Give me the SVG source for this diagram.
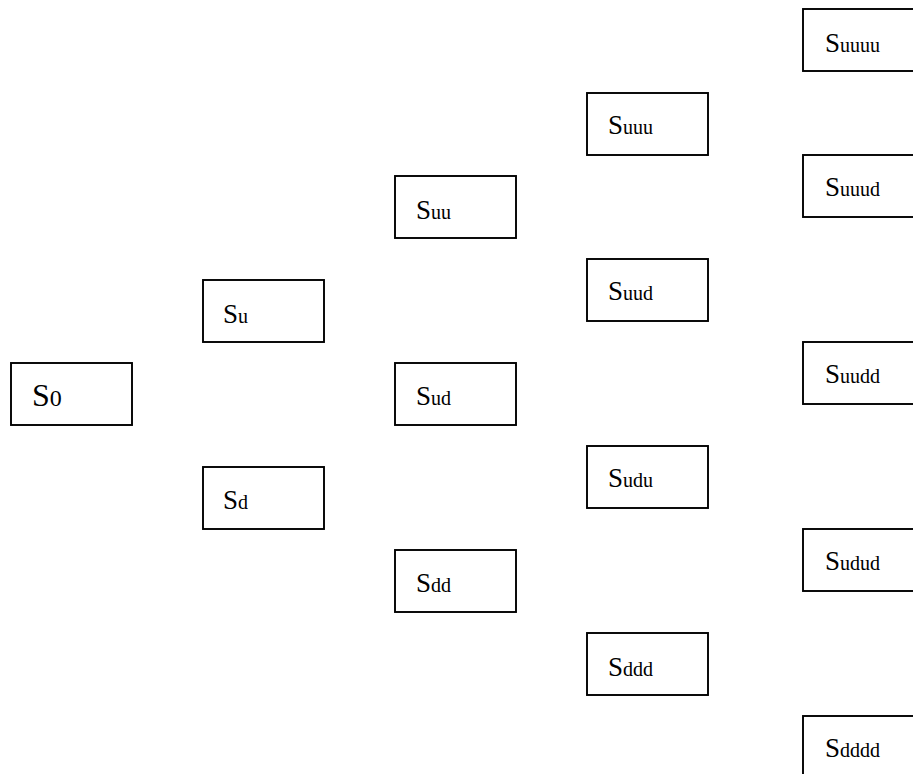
<svg xmlns="http://www.w3.org/2000/svg" width="913" height="774" viewBox="0 0 913 774">
  <style>
    .box { fill: #fff; stroke: #000; stroke-width: 1.9; }
    .lbl { font-family: "Liberation Serif", "Times New Roman", serif; fill: #000; font-size: 27px; }
    .sub { font-size: 20px; }
    .lbl0 { font-size: 32px; }
    .sub0 { font-size: 24px; }
  </style>
  <rect width="913" height="774" fill="#fff"/>

  <!-- step 0 -->
  <g id="S0">
    <rect class="box" x="11" y="363" width="121" height="62"/>
    <text class="lbl lbl0" x="32" y="406">S<tspan class="sub0">0</tspan></text>
  </g>

  <!-- step 1 -->
  <g id="Su">
    <rect class="box" x="203" y="280" width="121" height="62"/>
    <text class="lbl" x="223" y="323">S<tspan class="sub">u</tspan></text>
  </g>
  <g id="Sd">
    <rect class="box" x="203" y="467" width="121" height="62"/>
    <text class="lbl" x="223" y="509">S<tspan class="sub">d</tspan></text>
  </g>

  <!-- step 2 -->
  <g id="Suu">
    <rect class="box" x="395" y="176" width="121" height="62"/>
    <text class="lbl" x="416" y="219">S<tspan class="sub">uu</tspan></text>
  </g>
  <g id="Sud">
    <rect class="box" x="395" y="363" width="121" height="62"/>
    <text class="lbl" x="416" y="405">S<tspan class="sub">ud</tspan></text>
  </g>
  <g id="Sdd">
    <rect class="box" x="395" y="550" width="121" height="62"/>
    <text class="lbl" x="416" y="592">S<tspan class="sub">dd</tspan></text>
  </g>

  <!-- step 3 -->
  <g id="Suuu">
    <rect class="box" x="587" y="93" width="121" height="62"/>
    <text class="lbl" x="608" y="134">S<tspan class="sub">uuu</tspan></text>
  </g>
  <g id="Suud">
    <rect class="box" x="587" y="259" width="121" height="62"/>
    <text class="lbl" x="608" y="300">S<tspan class="sub">uud</tspan></text>
  </g>
  <g id="Sudu">
    <rect class="box" x="587" y="446" width="121" height="62"/>
    <text class="lbl" x="608" y="487">S<tspan class="sub">udu</tspan></text>
  </g>
  <g id="Sddd">
    <rect class="box" x="587" y="633" width="121" height="62"/>
    <text class="lbl" x="608" y="676">S<tspan class="sub">ddd</tspan></text>
  </g>

  <!-- step 4 -->
  <g id="Suuuu">
    <rect class="box" x="803" y="9" width="121" height="62"/>
    <text class="lbl" x="825" y="52">S<tspan class="sub">uuuu</tspan></text>
  </g>
  <g id="Suuud">
    <rect class="box" x="803" y="155" width="121" height="62"/>
    <text class="lbl" x="825" y="196">S<tspan class="sub">uuud</tspan></text>
  </g>
  <g id="Suudd">
    <rect class="box" x="803" y="342" width="121" height="62"/>
    <text class="lbl" x="825" y="383">S<tspan class="sub">uudd</tspan></text>
  </g>
  <g id="Sudud">
    <rect class="box" x="803" y="529" width="121" height="62"/>
    <text class="lbl" x="825" y="570">S<tspan class="sub">udud</tspan></text>
  </g>
  <g id="Sdddd">
    <rect class="box" x="803" y="716" width="121" height="62"/>
    <text class="lbl" x="825" y="757">S<tspan class="sub">dddd</tspan></text>
  </g>
</svg>
